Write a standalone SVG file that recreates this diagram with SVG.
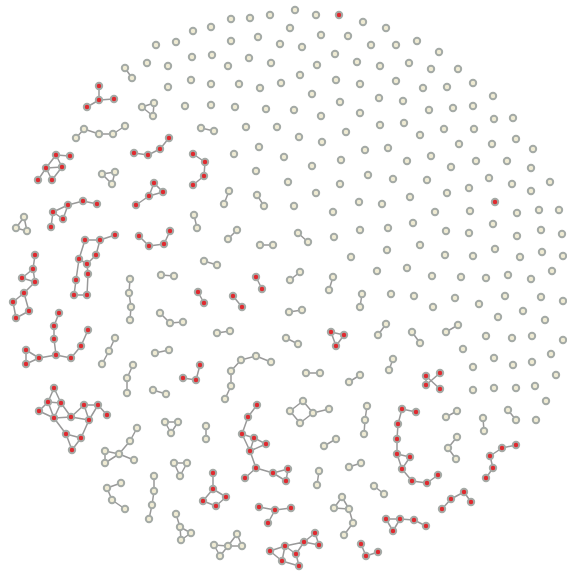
<svg xmlns="http://www.w3.org/2000/svg" width="567" height="573" viewBox="0 0 567 573">
<style>
.e path{fill:none;stroke:#999;stroke-width:1.5;stroke-linejoin:round}
circle{stroke:#a4aaa6;stroke-width:2}
.g{fill:#efebd3}
.r{fill:#e02a2f}
</style>
<rect width="567" height="573" fill="#fff"/>
<g id="connectors" class="e">
<path d="M99,86 L99,100 M114,99 L99,100 L87,107"/>
<path d="M134,153 L148,155 L160,149 L169,138"/>
<path d="M154,183 L163,192 L149,196 L154,183 M149,196 L136,205"/>
<path d="M70,156 L56,155 L46,168 L62,167 L56,155 M46,168 L38,180 M46,168 L52,180 L62,167"/>
<path d="M97,204 L83,201 L68,205 L53,212 L51,227 M53,212 L63,219 L68,205"/>
<path d="M139,236 L149,246 L164,244 L170,231"/>
<path d="M193,154 L205,162 L204,176 L193,185"/>
<path d="M85,240 L100,240 L115,235 M100,240 L96,255 L87,264 L79,259 L85,240 M87,264 L88,274 L87,295 L74,295 L76,280 L79,259"/>
<path d="M35,255 L33,269 L22,278 L35,282 L33,269 M35,282 L24,293 L13,302 L16,318 L29,311 L24,293"/>
<path d="M59,313 L54,326 L54,339 L56,355 L71,358 L81,346 L88,330 M56,355 L39,358 L26,350 L26,364 L39,358"/>
<path d="M54,388 L48,402 L61,403 L54,388 M48,402 L39,411 L54,418 L48,402 M61,403 L54,418 L71,417 L84,405 L98,405 L107,415 M61,403 L71,417 L89,420 L84,405 M98,405 L89,420 M54,418 L66,434 L81,438 L89,420 M66,434 L72,450 L81,438"/>
<path d="M198,292 L204,303 M233,296 L242,307 M256,277 L262,289"/>
<path d="M331,332 L344,335 L336,346 Z"/>
<path d="M183,378 L196,380 L200,365"/>
<path d="M257,405 L248,417 L242,434 L254,438 L266,444 L250,451 L242,434 M254,438 L250,451 L256,468 L245,478 M256,468 L273,473 L288,469 L286,481 L273,473"/>
<path d="M213,473 L213,489 L203,501 L216,506 L226,497 L213,489"/>
<path d="M259,507 L275,510 L291,508 M275,510 L268,523"/>
<path d="M270,551 L282,561 L285,546 L270,551 M285,546 L296,554 L299,566 L282,561 M285,546 L304,542 L296,554 M304,542 L315,533 L319,545 L304,542"/>
<path d="M361,544 L366,556 L378,552"/>
<path d="M426,376 L426,385 L440,373 M426,376 L440,389"/>
<path d="M416,412 L402,409 L398,424 L397,439 L397,454 L410,457 L402,469 L397,454 M402,469 L412,481 L427,483 L438,475"/>
<path d="M516,445 L502,448 L490,456 L493,468 L486,478"/>
<path d="M442,509 L451,499 L464,492 L471,502"/>
<path d="M400,519 L386,519 L393,531 L400,519 L414,520 L426,526"/>
<path d="M125,68 L132,78 M142,107 L154,103 L153,116 Z M76,138 L84,129 L99,134 L113,134 L125,126 M102,174 L115,172 L112,184 Z M24,217 L16,228 L27,231 Z"/>
<path d="M201,128 L214,131 M229,191 L224,204 M257,195 L264,206 M194,215 L197,228 M237,230 L228,239 M260,245 L273,245 M298,233 L308,242 M204,261 L217,265 M300,272 L290,280 M333,277 L329,290 M161,275 L174,276"/>
<path d="M130,279 L129,293 L131,307 L130,320 M160,313 L170,323 L183,322 M115,338 L109,351 L102,364 M155,353 L169,350 M133,365 L127,378 L127,393 M153,390 L166,394"/>
<path d="M362,294 L360,307 M289,312 L302,310 M217,333 L230,331 M286,338 L298,344 M271,362 L256,356 L241,360 L231,371 L231,386 L225,399 M306,373 L320,373 M349,382 L360,375"/>
<path d="M303,401 L290,411 L300,423 L313,413 L303,401 M313,413 L329,409 M367,406 L365,420 L364,434 M206,426 L206,439 M165,422 L178,422 L171,433 Z"/>
<path d="M137,428 L130,441 L119,454 L105,451 L105,463 L119,454 L134,460 M174,463 L187,463 L180,476 Z M121,483 L107,488 L112,500 L125,509 M154,476 L154,491 L152,505 L149,519 M176,514 L180,527 L181,540 L191,533 L180,527"/>
<path d="M324,446 L336,439 M319,471 L317,485 M349,467 L361,463 M374,486 L384,494 M334,508 L342,497 L349,509 L334,508 M349,509 L353,523 L344,535 M220,556 L214,545 L228,546 L220,556 M228,546 L237,534 L242,546 L228,546"/>
<path d="M386,324 L378,335 M412,332 L420,343 M446,332 L458,325 M393,359 L389,370 M446,417 L457,411 M483,418 L484,431 M508,410 L516,420 M457,437 L448,448 L456,459"/>
</g>
<g id="nodes">
<g id="n1"><circle class="r" cx="99" cy="86" r="3.2"/></g>
<g id="n2"><circle class="r" cx="99" cy="100" r="3.2"/></g>
<g id="n3"><circle class="r" cx="114" cy="99" r="3.2"/></g>
<g id="n4"><circle class="r" cx="87" cy="107" r="3.2"/></g>
<g id="n5"><circle class="r" cx="134" cy="153" r="3.2"/></g>
<g id="n6"><circle class="r" cx="148" cy="155" r="3.2"/></g>
<g id="n7"><circle class="r" cx="160" cy="149" r="3.2"/></g>
<g id="n8"><circle class="r" cx="169" cy="138" r="3.2"/></g>
<g id="n9"><circle class="r" cx="154" cy="183" r="3.2"/></g>
<g id="n10"><circle class="r" cx="163" cy="192" r="3.2"/></g>
<g id="n11"><circle class="r" cx="149" cy="196" r="3.2"/></g>
<g id="n12"><circle class="r" cx="136" cy="205" r="3.2"/></g>
<g id="n13"><circle class="r" cx="56" cy="155" r="3.2"/></g>
<g id="n14"><circle class="r" cx="70" cy="156" r="3.2"/></g>
<g id="n15"><circle class="r" cx="46" cy="168" r="3.2"/></g>
<g id="n16"><circle class="r" cx="62" cy="167" r="3.2"/></g>
<g id="n17"><circle class="r" cx="38" cy="180" r="3.2"/></g>
<g id="n18"><circle class="r" cx="52" cy="180" r="3.2"/></g>
<g id="n19"><circle class="r" cx="53" cy="212" r="3.2"/></g>
<g id="n20"><circle class="r" cx="63" cy="219" r="3.2"/></g>
<g id="n21"><circle class="r" cx="51" cy="227" r="3.2"/></g>
<g id="n22"><circle class="r" cx="68" cy="205" r="3.2"/></g>
<g id="n23"><circle class="r" cx="83" cy="201" r="3.2"/></g>
<g id="n24"><circle class="r" cx="97" cy="204" r="3.2"/></g>
<g id="n25"><circle class="r" cx="139" cy="236" r="3.2"/></g>
<g id="n26"><circle class="r" cx="149" cy="246" r="3.2"/></g>
<g id="n27"><circle class="r" cx="164" cy="244" r="3.2"/></g>
<g id="n28"><circle class="r" cx="170" cy="231" r="3.2"/></g>
<g id="n29"><circle class="r" cx="193" cy="154" r="3.2"/></g>
<g id="n30"><circle class="r" cx="205" cy="162" r="3.2"/></g>
<g id="n31"><circle class="r" cx="204" cy="176" r="3.2"/></g>
<g id="n32"><circle class="r" cx="193" cy="185" r="3.2"/></g>
<g id="n33"><circle class="r" cx="85" cy="240" r="3.2"/></g>
<g id="n34"><circle class="r" cx="100" cy="240" r="3.2"/></g>
<g id="n35"><circle class="r" cx="115" cy="235" r="3.2"/></g>
<g id="n36"><circle class="r" cx="96" cy="255" r="3.2"/></g>
<g id="n37"><circle class="r" cx="79" cy="259" r="3.2"/></g>
<g id="n38"><circle class="r" cx="87" cy="264" r="3.2"/></g>
<g id="n39"><circle class="r" cx="88" cy="274" r="3.2"/></g>
<g id="n40"><circle class="r" cx="76" cy="280" r="3.2"/></g>
<g id="n41"><circle class="r" cx="74" cy="295" r="3.2"/></g>
<g id="n42"><circle class="r" cx="87" cy="295" r="3.2"/></g>
<g id="n43"><circle class="r" cx="35" cy="255" r="3.2"/></g>
<g id="n44"><circle class="r" cx="33" cy="269" r="3.2"/></g>
<g id="n45"><circle class="r" cx="22" cy="278" r="3.2"/></g>
<g id="n46"><circle class="r" cx="35" cy="282" r="3.2"/></g>
<g id="n47"><circle class="r" cx="24" cy="293" r="3.2"/></g>
<g id="n48"><circle class="r" cx="13" cy="302" r="3.2"/></g>
<g id="n49"><circle class="r" cx="29" cy="311" r="3.2"/></g>
<g id="n50"><circle class="r" cx="16" cy="318" r="3.2"/></g>
<g id="n51"><circle class="r" cx="59" cy="313" r="3.2"/></g>
<g id="n52"><circle class="r" cx="54" cy="326" r="3.2"/></g>
<g id="n53"><circle class="r" cx="54" cy="339" r="3.2"/></g>
<g id="n54"><circle class="r" cx="56" cy="355" r="3.2"/></g>
<g id="n55"><circle class="r" cx="88" cy="330" r="3.2"/></g>
<g id="n56"><circle class="r" cx="81" cy="346" r="3.2"/></g>
<g id="n57"><circle class="r" cx="71" cy="358" r="3.2"/></g>
<g id="n58"><circle class="r" cx="39" cy="358" r="3.2"/></g>
<g id="n59"><circle class="r" cx="26" cy="350" r="3.2"/></g>
<g id="n60"><circle class="r" cx="26" cy="364" r="3.2"/></g>
<g id="n61"><circle class="r" cx="54" cy="388" r="3.2"/></g>
<g id="n62"><circle class="r" cx="48" cy="402" r="3.2"/></g>
<g id="n63"><circle class="r" cx="61" cy="403" r="3.2"/></g>
<g id="n64"><circle class="r" cx="39" cy="411" r="3.2"/></g>
<g id="n65"><circle class="r" cx="54" cy="418" r="3.2"/></g>
<g id="n66"><circle class="r" cx="71" cy="417" r="3.2"/></g>
<g id="n67"><circle class="r" cx="84" cy="405" r="3.2"/></g>
<g id="n68"><circle class="r" cx="98" cy="405" r="3.2"/></g>
<g id="n69"><circle class="r" cx="107" cy="415" r="3.2"/></g>
<g id="n70"><circle class="r" cx="89" cy="420" r="3.2"/></g>
<g id="n71"><circle class="r" cx="66" cy="434" r="3.2"/></g>
<g id="n72"><circle class="r" cx="81" cy="438" r="3.2"/></g>
<g id="n73"><circle class="r" cx="72" cy="450" r="3.2"/></g>
<g id="n74"><circle class="r" cx="198" cy="292" r="3.2"/></g>
<g id="n75"><circle class="r" cx="204" cy="303" r="3.2"/></g>
<g id="n76"><circle class="r" cx="233" cy="296" r="3.2"/></g>
<g id="n77"><circle class="r" cx="242" cy="307" r="3.2"/></g>
<g id="n78"><circle class="r" cx="256" cy="277" r="3.2"/></g>
<g id="n79"><circle class="r" cx="262" cy="289" r="3.2"/></g>
<g id="n80"><circle class="r" cx="331" cy="332" r="3.2"/></g>
<g id="n81"><circle class="r" cx="344" cy="335" r="3.2"/></g>
<g id="n82"><circle class="r" cx="336" cy="346" r="3.2"/></g>
<g id="n83"><circle class="r" cx="183" cy="378" r="3.2"/></g>
<g id="n84"><circle class="r" cx="196" cy="380" r="3.2"/></g>
<g id="n85"><circle class="r" cx="200" cy="365" r="3.2"/></g>
<g id="n86"><circle class="r" cx="257" cy="405" r="3.2"/></g>
<g id="n87"><circle class="r" cx="248" cy="417" r="3.2"/></g>
<g id="n88"><circle class="r" cx="242" cy="434" r="3.2"/></g>
<g id="n89"><circle class="r" cx="254" cy="438" r="3.2"/></g>
<g id="n90"><circle class="r" cx="266" cy="444" r="3.2"/></g>
<g id="n91"><circle class="r" cx="250" cy="451" r="3.2"/></g>
<g id="n92"><circle class="r" cx="256" cy="468" r="3.2"/></g>
<g id="n93"><circle class="r" cx="245" cy="478" r="3.2"/></g>
<g id="n94"><circle class="r" cx="273" cy="473" r="3.2"/></g>
<g id="n95"><circle class="r" cx="288" cy="469" r="3.2"/></g>
<g id="n96"><circle class="r" cx="286" cy="481" r="3.2"/></g>
<g id="n97"><circle class="r" cx="213" cy="473" r="3.2"/></g>
<g id="n98"><circle class="r" cx="213" cy="489" r="3.2"/></g>
<g id="n99"><circle class="r" cx="203" cy="501" r="3.2"/></g>
<g id="n100"><circle class="r" cx="216" cy="506" r="3.2"/></g>
<g id="n101"><circle class="r" cx="226" cy="497" r="3.2"/></g>
<g id="n102"><circle class="r" cx="259" cy="507" r="3.2"/></g>
<g id="n103"><circle class="r" cx="275" cy="510" r="3.2"/></g>
<g id="n104"><circle class="r" cx="291" cy="508" r="3.2"/></g>
<g id="n105"><circle class="r" cx="268" cy="523" r="3.2"/></g>
<g id="n106"><circle class="r" cx="270" cy="551" r="3.2"/></g>
<g id="n107"><circle class="r" cx="282" cy="561" r="3.2"/></g>
<g id="n108"><circle class="r" cx="285" cy="546" r="3.2"/></g>
<g id="n109"><circle class="r" cx="296" cy="554" r="3.2"/></g>
<g id="n110"><circle class="r" cx="299" cy="566" r="3.2"/></g>
<g id="n111"><circle class="r" cx="304" cy="542" r="3.2"/></g>
<g id="n112"><circle class="r" cx="315" cy="533" r="3.2"/></g>
<g id="n113"><circle class="r" cx="319" cy="545" r="3.2"/></g>
<g id="n114"><circle class="r" cx="361" cy="544" r="3.2"/></g>
<g id="n115"><circle class="r" cx="366" cy="556" r="3.2"/></g>
<g id="n116"><circle class="r" cx="378" cy="552" r="3.2"/></g>
<g id="n117"><circle class="r" cx="426" cy="376" r="3.2"/></g>
<g id="n118"><circle class="r" cx="440" cy="373" r="3.2"/></g>
<g id="n119"><circle class="r" cx="426" cy="385" r="3.2"/></g>
<g id="n120"><circle class="r" cx="440" cy="389" r="3.2"/></g>
<g id="n121"><circle class="r" cx="402" cy="409" r="3.2"/></g>
<g id="n122"><circle class="r" cx="416" cy="412" r="3.2"/></g>
<g id="n123"><circle class="r" cx="398" cy="424" r="3.2"/></g>
<g id="n124"><circle class="r" cx="397" cy="439" r="3.2"/></g>
<g id="n125"><circle class="r" cx="397" cy="454" r="3.2"/></g>
<g id="n126"><circle class="r" cx="410" cy="457" r="3.2"/></g>
<g id="n127"><circle class="r" cx="402" cy="469" r="3.2"/></g>
<g id="n128"><circle class="r" cx="412" cy="481" r="3.2"/></g>
<g id="n129"><circle class="r" cx="427" cy="483" r="3.2"/></g>
<g id="n130"><circle class="r" cx="438" cy="475" r="3.2"/></g>
<g id="n131"><circle class="r" cx="516" cy="445" r="3.2"/></g>
<g id="n132"><circle class="r" cx="502" cy="448" r="3.2"/></g>
<g id="n133"><circle class="r" cx="490" cy="456" r="3.2"/></g>
<g id="n134"><circle class="r" cx="493" cy="468" r="3.2"/></g>
<g id="n135"><circle class="r" cx="486" cy="478" r="3.2"/></g>
<g id="n136"><circle class="r" cx="442" cy="509" r="3.2"/></g>
<g id="n137"><circle class="r" cx="451" cy="499" r="3.2"/></g>
<g id="n138"><circle class="r" cx="464" cy="492" r="3.2"/></g>
<g id="n139"><circle class="r" cx="471" cy="502" r="3.2"/></g>
<g id="n140"><circle class="r" cx="386" cy="519" r="3.2"/></g>
<g id="n141"><circle class="r" cx="400" cy="519" r="3.2"/></g>
<g id="n142"><circle class="r" cx="393" cy="531" r="3.2"/></g>
<g id="n143"><circle class="r" cx="414" cy="520" r="3.2"/></g>
<g id="n144"><circle class="r" cx="426" cy="526" r="3.2"/></g>
<g id="n145"><circle class="r" cx="339" cy="15" r="3.2"/></g>
<g id="n146"><circle class="r" cx="495" cy="202" r="3.2"/></g>
<g id="n147"><circle class="g" cx="125" cy="68" r="3.2"/></g>
<g id="n148"><circle class="g" cx="132" cy="78" r="3.2"/></g>
<g id="n149"><circle class="g" cx="142" cy="107" r="3.2"/></g>
<g id="n150"><circle class="g" cx="154" cy="103" r="3.2"/></g>
<g id="n151"><circle class="g" cx="153" cy="116" r="3.2"/></g>
<g id="n152"><circle class="g" cx="76" cy="138" r="3.2"/></g>
<g id="n153"><circle class="g" cx="84" cy="129" r="3.2"/></g>
<g id="n154"><circle class="g" cx="99" cy="134" r="3.2"/></g>
<g id="n155"><circle class="g" cx="113" cy="134" r="3.2"/></g>
<g id="n156"><circle class="g" cx="125" cy="126" r="3.2"/></g>
<g id="n157"><circle class="g" cx="102" cy="174" r="3.2"/></g>
<g id="n158"><circle class="g" cx="115" cy="172" r="3.2"/></g>
<g id="n159"><circle class="g" cx="112" cy="184" r="3.2"/></g>
<g id="n160"><circle class="g" cx="24" cy="217" r="3.2"/></g>
<g id="n161"><circle class="g" cx="16" cy="228" r="3.2"/></g>
<g id="n162"><circle class="g" cx="27" cy="231" r="3.2"/></g>
<g id="n163"><circle class="g" cx="201" cy="128" r="3.2"/></g>
<g id="n164"><circle class="g" cx="214" cy="131" r="3.2"/></g>
<g id="n165"><circle class="g" cx="229" cy="191" r="3.2"/></g>
<g id="n166"><circle class="g" cx="224" cy="204" r="3.2"/></g>
<g id="n167"><circle class="g" cx="257" cy="195" r="3.2"/></g>
<g id="n168"><circle class="g" cx="264" cy="206" r="3.2"/></g>
<g id="n169"><circle class="g" cx="194" cy="215" r="3.2"/></g>
<g id="n170"><circle class="g" cx="197" cy="228" r="3.2"/></g>
<g id="n171"><circle class="g" cx="237" cy="230" r="3.2"/></g>
<g id="n172"><circle class="g" cx="228" cy="239" r="3.2"/></g>
<g id="n173"><circle class="g" cx="260" cy="245" r="3.2"/></g>
<g id="n174"><circle class="g" cx="273" cy="245" r="3.2"/></g>
<g id="n175"><circle class="g" cx="298" cy="233" r="3.2"/></g>
<g id="n176"><circle class="g" cx="308" cy="242" r="3.2"/></g>
<g id="n177"><circle class="g" cx="204" cy="261" r="3.2"/></g>
<g id="n178"><circle class="g" cx="217" cy="265" r="3.2"/></g>
<g id="n179"><circle class="g" cx="300" cy="272" r="3.2"/></g>
<g id="n180"><circle class="g" cx="290" cy="280" r="3.2"/></g>
<g id="n181"><circle class="g" cx="333" cy="277" r="3.2"/></g>
<g id="n182"><circle class="g" cx="329" cy="290" r="3.2"/></g>
<g id="n183"><circle class="g" cx="161" cy="275" r="3.2"/></g>
<g id="n184"><circle class="g" cx="174" cy="276" r="3.2"/></g>
<g id="n185"><circle class="g" cx="130" cy="279" r="3.2"/></g>
<g id="n186"><circle class="g" cx="129" cy="293" r="3.2"/></g>
<g id="n187"><circle class="g" cx="131" cy="307" r="3.2"/></g>
<g id="n188"><circle class="g" cx="130" cy="320" r="3.2"/></g>
<g id="n189"><circle class="g" cx="160" cy="313" r="3.2"/></g>
<g id="n190"><circle class="g" cx="170" cy="323" r="3.2"/></g>
<g id="n191"><circle class="g" cx="183" cy="322" r="3.2"/></g>
<g id="n192"><circle class="g" cx="115" cy="338" r="3.2"/></g>
<g id="n193"><circle class="g" cx="109" cy="351" r="3.2"/></g>
<g id="n194"><circle class="g" cx="102" cy="364" r="3.2"/></g>
<g id="n195"><circle class="g" cx="155" cy="353" r="3.2"/></g>
<g id="n196"><circle class="g" cx="169" cy="350" r="3.2"/></g>
<g id="n197"><circle class="g" cx="133" cy="365" r="3.2"/></g>
<g id="n198"><circle class="g" cx="127" cy="378" r="3.2"/></g>
<g id="n199"><circle class="g" cx="127" cy="393" r="3.2"/></g>
<g id="n200"><circle class="g" cx="153" cy="390" r="3.2"/></g>
<g id="n201"><circle class="g" cx="166" cy="394" r="3.2"/></g>
<g id="n202"><circle class="g" cx="362" cy="294" r="3.2"/></g>
<g id="n203"><circle class="g" cx="360" cy="307" r="3.2"/></g>
<g id="n204"><circle class="g" cx="289" cy="312" r="3.2"/></g>
<g id="n205"><circle class="g" cx="302" cy="310" r="3.2"/></g>
<g id="n206"><circle class="g" cx="217" cy="333" r="3.2"/></g>
<g id="n207"><circle class="g" cx="230" cy="331" r="3.2"/></g>
<g id="n208"><circle class="g" cx="286" cy="338" r="3.2"/></g>
<g id="n209"><circle class="g" cx="298" cy="344" r="3.2"/></g>
<g id="n210"><circle class="g" cx="271" cy="362" r="3.2"/></g>
<g id="n211"><circle class="g" cx="256" cy="356" r="3.2"/></g>
<g id="n212"><circle class="g" cx="241" cy="360" r="3.2"/></g>
<g id="n213"><circle class="g" cx="231" cy="371" r="3.2"/></g>
<g id="n214"><circle class="g" cx="231" cy="386" r="3.2"/></g>
<g id="n215"><circle class="g" cx="225" cy="399" r="3.2"/></g>
<g id="n216"><circle class="g" cx="306" cy="373" r="3.2"/></g>
<g id="n217"><circle class="g" cx="320" cy="373" r="3.2"/></g>
<g id="n218"><circle class="g" cx="349" cy="382" r="3.2"/></g>
<g id="n219"><circle class="g" cx="360" cy="375" r="3.2"/></g>
<g id="n220"><circle class="g" cx="303" cy="401" r="3.2"/></g>
<g id="n221"><circle class="g" cx="290" cy="411" r="3.2"/></g>
<g id="n222"><circle class="g" cx="313" cy="413" r="3.2"/></g>
<g id="n223"><circle class="g" cx="300" cy="423" r="3.2"/></g>
<g id="n224"><circle class="g" cx="329" cy="409" r="3.2"/></g>
<g id="n225"><circle class="g" cx="367" cy="406" r="3.2"/></g>
<g id="n226"><circle class="g" cx="365" cy="420" r="3.2"/></g>
<g id="n227"><circle class="g" cx="364" cy="434" r="3.2"/></g>
<g id="n228"><circle class="g" cx="206" cy="426" r="3.2"/></g>
<g id="n229"><circle class="g" cx="206" cy="439" r="3.2"/></g>
<g id="n230"><circle class="g" cx="165" cy="422" r="3.2"/></g>
<g id="n231"><circle class="g" cx="178" cy="422" r="3.2"/></g>
<g id="n232"><circle class="g" cx="171" cy="433" r="3.2"/></g>
<g id="n233"><circle class="g" cx="137" cy="428" r="3.2"/></g>
<g id="n234"><circle class="g" cx="130" cy="441" r="3.2"/></g>
<g id="n235"><circle class="g" cx="105" cy="451" r="3.2"/></g>
<g id="n236"><circle class="g" cx="119" cy="454" r="3.2"/></g>
<g id="n237"><circle class="g" cx="105" cy="463" r="3.2"/></g>
<g id="n238"><circle class="g" cx="134" cy="460" r="3.2"/></g>
<g id="n239"><circle class="g" cx="174" cy="463" r="3.2"/></g>
<g id="n240"><circle class="g" cx="187" cy="463" r="3.2"/></g>
<g id="n241"><circle class="g" cx="180" cy="476" r="3.2"/></g>
<g id="n242"><circle class="g" cx="121" cy="483" r="3.2"/></g>
<g id="n243"><circle class="g" cx="107" cy="488" r="3.2"/></g>
<g id="n244"><circle class="g" cx="112" cy="500" r="3.2"/></g>
<g id="n245"><circle class="g" cx="125" cy="509" r="3.2"/></g>
<g id="n246"><circle class="g" cx="154" cy="476" r="3.2"/></g>
<g id="n247"><circle class="g" cx="154" cy="491" r="3.2"/></g>
<g id="n248"><circle class="g" cx="152" cy="505" r="3.2"/></g>
<g id="n249"><circle class="g" cx="149" cy="519" r="3.2"/></g>
<g id="n250"><circle class="g" cx="176" cy="514" r="3.2"/></g>
<g id="n251"><circle class="g" cx="180" cy="527" r="3.2"/></g>
<g id="n252"><circle class="g" cx="181" cy="540" r="3.2"/></g>
<g id="n253"><circle class="g" cx="191" cy="533" r="3.2"/></g>
<g id="n254"><circle class="g" cx="324" cy="446" r="3.2"/></g>
<g id="n255"><circle class="g" cx="336" cy="439" r="3.2"/></g>
<g id="n256"><circle class="g" cx="319" cy="471" r="3.2"/></g>
<g id="n257"><circle class="g" cx="317" cy="485" r="3.2"/></g>
<g id="n258"><circle class="g" cx="349" cy="467" r="3.2"/></g>
<g id="n259"><circle class="g" cx="361" cy="463" r="3.2"/></g>
<g id="n260"><circle class="g" cx="374" cy="486" r="3.2"/></g>
<g id="n261"><circle class="g" cx="384" cy="494" r="3.2"/></g>
<g id="n262"><circle class="g" cx="342" cy="497" r="3.2"/></g>
<g id="n263"><circle class="g" cx="334" cy="508" r="3.2"/></g>
<g id="n264"><circle class="g" cx="349" cy="509" r="3.2"/></g>
<g id="n265"><circle class="g" cx="353" cy="523" r="3.2"/></g>
<g id="n266"><circle class="g" cx="344" cy="535" r="3.2"/></g>
<g id="n267"><circle class="g" cx="214" cy="545" r="3.2"/></g>
<g id="n268"><circle class="g" cx="220" cy="556" r="3.2"/></g>
<g id="n269"><circle class="g" cx="228" cy="546" r="3.2"/></g>
<g id="n270"><circle class="g" cx="237" cy="534" r="3.2"/></g>
<g id="n271"><circle class="g" cx="242" cy="546" r="3.2"/></g>
<g id="n272"><circle class="g" cx="386" cy="324" r="3.2"/></g>
<g id="n273"><circle class="g" cx="378" cy="335" r="3.2"/></g>
<g id="n274"><circle class="g" cx="412" cy="332" r="3.2"/></g>
<g id="n275"><circle class="g" cx="420" cy="343" r="3.2"/></g>
<g id="n276"><circle class="g" cx="446" cy="332" r="3.2"/></g>
<g id="n277"><circle class="g" cx="458" cy="325" r="3.2"/></g>
<g id="n278"><circle class="g" cx="393" cy="359" r="3.2"/></g>
<g id="n279"><circle class="g" cx="389" cy="370" r="3.2"/></g>
<g id="n280"><circle class="g" cx="446" cy="417" r="3.2"/></g>
<g id="n281"><circle class="g" cx="457" cy="411" r="3.2"/></g>
<g id="n282"><circle class="g" cx="483" cy="418" r="3.2"/></g>
<g id="n283"><circle class="g" cx="484" cy="431" r="3.2"/></g>
<g id="n284"><circle class="g" cx="508" cy="410" r="3.2"/></g>
<g id="n285"><circle class="g" cx="516" cy="420" r="3.2"/></g>
<g id="n286"><circle class="g" cx="457" cy="437" r="3.2"/></g>
<g id="n287"><circle class="g" cx="448" cy="448" r="3.2"/></g>
<g id="n288"><circle class="g" cx="456" cy="459" r="3.2"/></g>
<g id="n289"><circle class="g" cx="156" cy="45" r="3.2"/></g>
<g id="n290"><circle class="g" cx="176" cy="42" r="3.2"/></g>
<g id="n291"><circle class="g" cx="147" cy="63" r="3.2"/></g>
<g id="n292"><circle class="g" cx="168" cy="66" r="3.2"/></g>
<g id="n293"><circle class="g" cx="168" cy="87" r="3.2"/></g>
<g id="n294"><circle class="g" cx="185" cy="106" r="3.2"/></g>
<g id="n295"><circle class="g" cx="193" cy="31" r="3.2"/></g>
<g id="n296"><circle class="g" cx="211" cy="27" r="3.2"/></g>
<g id="n297"><circle class="g" cx="231" cy="19" r="3.2"/></g>
<g id="n298"><circle class="g" cx="250" cy="18" r="3.2"/></g>
<g id="n299"><circle class="g" cx="270" cy="15" r="3.2"/></g>
<g id="n300"><circle class="g" cx="295" cy="10" r="3.2"/></g>
<g id="n301"><circle class="g" cx="316" cy="15" r="3.2"/></g>
<g id="n302"><circle class="g" cx="363" cy="22" r="3.2"/></g>
<g id="n303"><circle class="g" cx="290" cy="28" r="3.2"/></g>
<g id="n304"><circle class="g" cx="231" cy="41" r="3.2"/></g>
<g id="n305"><circle class="g" cx="258" cy="37" r="3.2"/></g>
<g id="n306"><circle class="g" cx="280" cy="44" r="3.2"/></g>
<g id="n307"><circle class="g" cx="302" cy="47" r="3.2"/></g>
<g id="n308"><circle class="g" cx="321" cy="35" r="3.2"/></g>
<g id="n309"><circle class="g" cx="348" cy="36" r="3.2"/></g>
<g id="n310"><circle class="g" cx="371" cy="45" r="3.2"/></g>
<g id="n311"><circle class="g" cx="192" cy="57" r="3.2"/></g>
<g id="n312"><circle class="g" cx="212" cy="55" r="3.2"/></g>
<g id="n313"><circle class="g" cx="228" cy="66" r="3.2"/></g>
<g id="n314"><circle class="g" cx="249" cy="58" r="3.2"/></g>
<g id="n315"><circle class="g" cx="271" cy="63" r="3.2"/></g>
<g id="n316"><circle class="g" cx="317" cy="65" r="3.2"/></g>
<g id="n317"><circle class="g" cx="335" cy="54" r="3.2"/></g>
<g id="n318"><circle class="g" cx="357" cy="62" r="3.2"/></g>
<g id="n319"><circle class="g" cx="191" cy="80" r="3.2"/></g>
<g id="n320"><circle class="g" cx="211" cy="84" r="3.2"/></g>
<g id="n321"><circle class="g" cx="239" cy="84" r="3.2"/></g>
<g id="n322"><circle class="g" cx="260" cy="88" r="3.2"/></g>
<g id="n323"><circle class="g" cx="281" cy="83" r="3.2"/></g>
<g id="n324"><circle class="g" cx="300" cy="75" r="3.2"/></g>
<g id="n325"><circle class="g" cx="312" cy="94" r="3.2"/></g>
<g id="n326"><circle class="g" cx="336" cy="80" r="3.2"/></g>
<g id="n327"><circle class="g" cx="360" cy="84" r="3.2"/></g>
<g id="n328"><circle class="g" cx="211" cy="105" r="3.2"/></g>
<g id="n329"><circle class="g" cx="235" cy="107" r="3.2"/></g>
<g id="n330"><circle class="g" cx="266" cy="109" r="3.2"/></g>
<g id="n331"><circle class="g" cx="294" cy="110" r="3.2"/></g>
<g id="n332"><circle class="g" cx="321" cy="116" r="3.2"/></g>
<g id="n333"><circle class="g" cx="340" cy="102" r="3.2"/></g>
<g id="n334"><circle class="g" cx="360" cy="113" r="3.2"/></g>
<g id="n335"><circle class="g" cx="246" cy="127" r="3.2"/></g>
<g id="n336"><circle class="g" cx="277" cy="127" r="3.2"/></g>
<g id="n337"><circle class="g" cx="299" cy="137" r="3.2"/></g>
<g id="n338"><circle class="g" cx="322" cy="142" r="3.2"/></g>
<g id="n339"><circle class="g" cx="346" cy="132" r="3.2"/></g>
<g id="n340"><circle class="g" cx="386" cy="28" r="3.2"/></g>
<g id="n341"><circle class="g" cx="396" cy="45" r="3.2"/></g>
<g id="n342"><circle class="g" cx="417" cy="41" r="3.2"/></g>
<g id="n343"><circle class="g" cx="439" cy="52" r="3.2"/></g>
<g id="n344"><circle class="g" cx="380" cy="66" r="3.2"/></g>
<g id="n345"><circle class="g" cx="409" cy="63" r="3.2"/></g>
<g id="n346"><circle class="g" cx="431" cy="69" r="3.2"/></g>
<g id="n347"><circle class="g" cx="458" cy="69" r="3.2"/></g>
<g id="n348"><circle class="g" cx="396" cy="81" r="3.2"/></g>
<g id="n349"><circle class="g" cx="423" cy="88" r="3.2"/></g>
<g id="n350"><circle class="g" cx="447" cy="87" r="3.2"/></g>
<g id="n351"><circle class="g" cx="473" cy="83" r="3.2"/></g>
<g id="n352"><circle class="g" cx="379" cy="98" r="3.2"/></g>
<g id="n353"><circle class="g" cx="403" cy="101" r="3.2"/></g>
<g id="n354"><circle class="g" cx="429" cy="110" r="3.2"/></g>
<g id="n355"><circle class="g" cx="453" cy="108" r="3.2"/></g>
<g id="n356"><circle class="g" cx="473" cy="106" r="3.2"/></g>
<g id="n357"><circle class="g" cx="493" cy="96" r="3.2"/></g>
<g id="n358"><circle class="g" cx="380" cy="125" r="3.2"/></g>
<g id="n359"><circle class="g" cx="404" cy="123" r="3.2"/></g>
<g id="n360"><circle class="g" cx="444" cy="129" r="3.2"/></g>
<g id="n361"><circle class="g" cx="474" cy="129" r="3.2"/></g>
<g id="n362"><circle class="g" cx="494" cy="119" r="3.2"/></g>
<g id="n363"><circle class="g" cx="513" cy="118" r="3.2"/></g>
<g id="n364"><circle class="g" cx="420" cy="135" r="3.2"/></g>
<g id="n365"><circle class="g" cx="516" cy="139" r="3.2"/></g>
<g id="n366"><circle class="g" cx="459" cy="144" r="3.2"/></g>
<g id="n367"><circle class="g" cx="492" cy="144" r="3.2"/></g>
<g id="n368"><circle class="g" cx="234" cy="154" r="3.2"/></g>
<g id="n369"><circle class="g" cx="259" cy="147" r="3.2"/></g>
<g id="n370"><circle class="g" cx="284" cy="157" r="3.2"/></g>
<g id="n371"><circle class="g" cx="312" cy="166" r="3.2"/></g>
<g id="n372"><circle class="g" cx="341" cy="160" r="3.2"/></g>
<g id="n373"><circle class="g" cx="365" cy="150" r="3.2"/></g>
<g id="n374"><circle class="g" cx="256" cy="171" r="3.2"/></g>
<g id="n375"><circle class="g" cx="288" cy="182" r="3.2"/></g>
<g id="n376"><circle class="g" cx="316" cy="193" r="3.2"/></g>
<g id="n377"><circle class="g" cx="340" cy="184" r="3.2"/></g>
<g id="n378"><circle class="g" cx="368" cy="175" r="3.2"/></g>
<g id="n379"><circle class="g" cx="294" cy="206" r="3.2"/></g>
<g id="n380"><circle class="g" cx="333" cy="212" r="3.2"/></g>
<g id="n381"><circle class="g" cx="359" cy="202" r="3.2"/></g>
<g id="n382"><circle class="g" cx="334" cy="237" r="3.2"/></g>
<g id="n383"><circle class="g" cx="360" cy="230" r="3.2"/></g>
<g id="n384"><circle class="g" cx="351" cy="257" r="3.2"/></g>
<g id="n385"><circle class="g" cx="377" cy="271" r="3.2"/></g>
<g id="n386"><circle class="g" cx="388" cy="148" r="3.2"/></g>
<g id="n387"><circle class="g" cx="533" cy="149" r="3.2"/></g>
<g id="n388"><circle class="g" cx="407" cy="161" r="3.2"/></g>
<g id="n389"><circle class="g" cx="431" cy="156" r="3.2"/></g>
<g id="n390"><circle class="g" cx="451" cy="167" r="3.2"/></g>
<g id="n391"><circle class="g" cx="476" cy="161" r="3.2"/></g>
<g id="n392"><circle class="g" cx="507" cy="161" r="3.2"/></g>
<g id="n393"><circle class="g" cx="531" cy="168" r="3.2"/></g>
<g id="n394"><circle class="g" cx="393" cy="179" r="3.2"/></g>
<g id="n395"><circle class="g" cx="427" cy="180" r="3.2"/></g>
<g id="n396"><circle class="g" cx="489" cy="178" r="3.2"/></g>
<g id="n397"><circle class="g" cx="512" cy="184" r="3.2"/></g>
<g id="n398"><circle class="g" cx="550" cy="182" r="3.2"/></g>
<g id="n399"><circle class="g" cx="531" cy="191" r="3.2"/></g>
<g id="n400"><circle class="g" cx="410" cy="197" r="3.2"/></g>
<g id="n401"><circle class="g" cx="447" cy="193" r="3.2"/></g>
<g id="n402"><circle class="g" cx="469" cy="188" r="3.2"/></g>
<g id="n403"><circle class="g" cx="382" cy="204" r="3.2"/></g>
<g id="n404"><circle class="g" cx="435" cy="212" r="3.2"/></g>
<g id="n405"><circle class="g" cx="470" cy="211" r="3.2"/></g>
<g id="n406"><circle class="g" cx="517" cy="213" r="3.2"/></g>
<g id="n407"><circle class="g" cx="539" cy="210" r="3.2"/></g>
<g id="n408"><circle class="g" cx="559" cy="210" r="3.2"/></g>
<g id="n409"><circle class="g" cx="388" cy="228" r="3.2"/></g>
<g id="n410"><circle class="g" cx="413" cy="223" r="3.2"/></g>
<g id="n411"><circle class="g" cx="446" cy="231" r="3.2"/></g>
<g id="n412"><circle class="g" cx="469" cy="233" r="3.2"/></g>
<g id="n413"><circle class="g" cx="493" cy="224" r="3.2"/></g>
<g id="n414"><circle class="g" cx="517" cy="236" r="3.2"/></g>
<g id="n415"><circle class="g" cx="541" cy="230" r="3.2"/></g>
<g id="n416"><circle class="g" cx="562" cy="234" r="3.2"/></g>
<g id="n417"><circle class="g" cx="387" cy="250" r="3.2"/></g>
<g id="n418"><circle class="g" cx="420" cy="245" r="3.2"/></g>
<g id="n419"><circle class="g" cx="445" cy="255" r="3.2"/></g>
<g id="n420"><circle class="g" cx="473" cy="256" r="3.2"/></g>
<g id="n421"><circle class="g" cx="495" cy="249" r="3.2"/></g>
<g id="n422"><circle class="g" cx="520" cy="257" r="3.2"/></g>
<g id="n423"><circle class="g" cx="542" cy="252" r="3.2"/></g>
<g id="n424"><circle class="g" cx="563" cy="256" r="3.2"/></g>
<g id="n425"><circle class="g" cx="407" cy="268" r="3.2"/></g>
<g id="n426"><circle class="g" cx="432" cy="276" r="3.2"/></g>
<g id="n427"><circle class="g" cx="461" cy="277" r="3.2"/></g>
<g id="n428"><circle class="g" cx="486" cy="278" r="3.2"/></g>
<g id="n429"><circle class="g" cx="508" cy="275" r="3.2"/></g>
<g id="n430"><circle class="g" cx="531" cy="279" r="3.2"/></g>
<g id="n431"><circle class="g" cx="552" cy="271" r="3.2"/></g>
<g id="n432"><circle class="g" cx="391" cy="294" r="3.2"/></g>
<g id="n433"><circle class="g" cx="414" cy="296" r="3.2"/></g>
<g id="n434"><circle class="g" cx="433" cy="307" r="3.2"/></g>
<g id="n435"><circle class="g" cx="455" cy="298" r="3.2"/></g>
<g id="n436"><circle class="g" cx="479" cy="304" r="3.2"/></g>
<g id="n437"><circle class="g" cx="505" cy="296" r="3.2"/></g>
<g id="n438"><circle class="g" cx="541" cy="297" r="3.2"/></g>
<g id="n439"><circle class="g" cx="563" cy="301" r="3.2"/></g>
<g id="n440"><circle class="g" cx="523" cy="311" r="3.2"/></g>
<g id="n441"><circle class="g" cx="498" cy="317" r="3.2"/></g>
<g id="n442"><circle class="g" cx="545" cy="320" r="3.2"/></g>
<g id="n443"><circle class="g" cx="486" cy="336" r="3.2"/></g>
<g id="n444"><circle class="g" cx="512" cy="338" r="3.2"/></g>
<g id="n445"><circle class="g" cx="532" cy="336" r="3.2"/></g>
<g id="n446"><circle class="g" cx="563" cy="340" r="3.2"/></g>
<g id="n447"><circle class="g" cx="463" cy="349" r="3.2"/></g>
<g id="n448"><circle class="g" cx="494" cy="358" r="3.2"/></g>
<g id="n449"><circle class="g" cx="513" cy="365" r="3.2"/></g>
<g id="n450"><circle class="g" cx="532" cy="362" r="3.2"/></g>
<g id="n451"><circle class="g" cx="551" cy="354" r="3.2"/></g>
<g id="n452"><circle class="g" cx="473" cy="367" r="3.2"/></g>
<g id="n453"><circle class="g" cx="556" cy="375" r="3.2"/></g>
<g id="n454"><circle class="g" cx="473" cy="390" r="3.2"/></g>
<g id="n455"><circle class="g" cx="494" cy="388" r="3.2"/></g>
<g id="n456"><circle class="g" cx="516" cy="388" r="3.2"/></g>
<g id="n457"><circle class="g" cx="535" cy="386" r="3.2"/></g>
<g id="n458"><circle class="g" cx="546" cy="401" r="3.2"/></g>
<g id="n459"><circle class="g" cx="536" cy="420" r="3.2"/></g>
</g>
</svg>
